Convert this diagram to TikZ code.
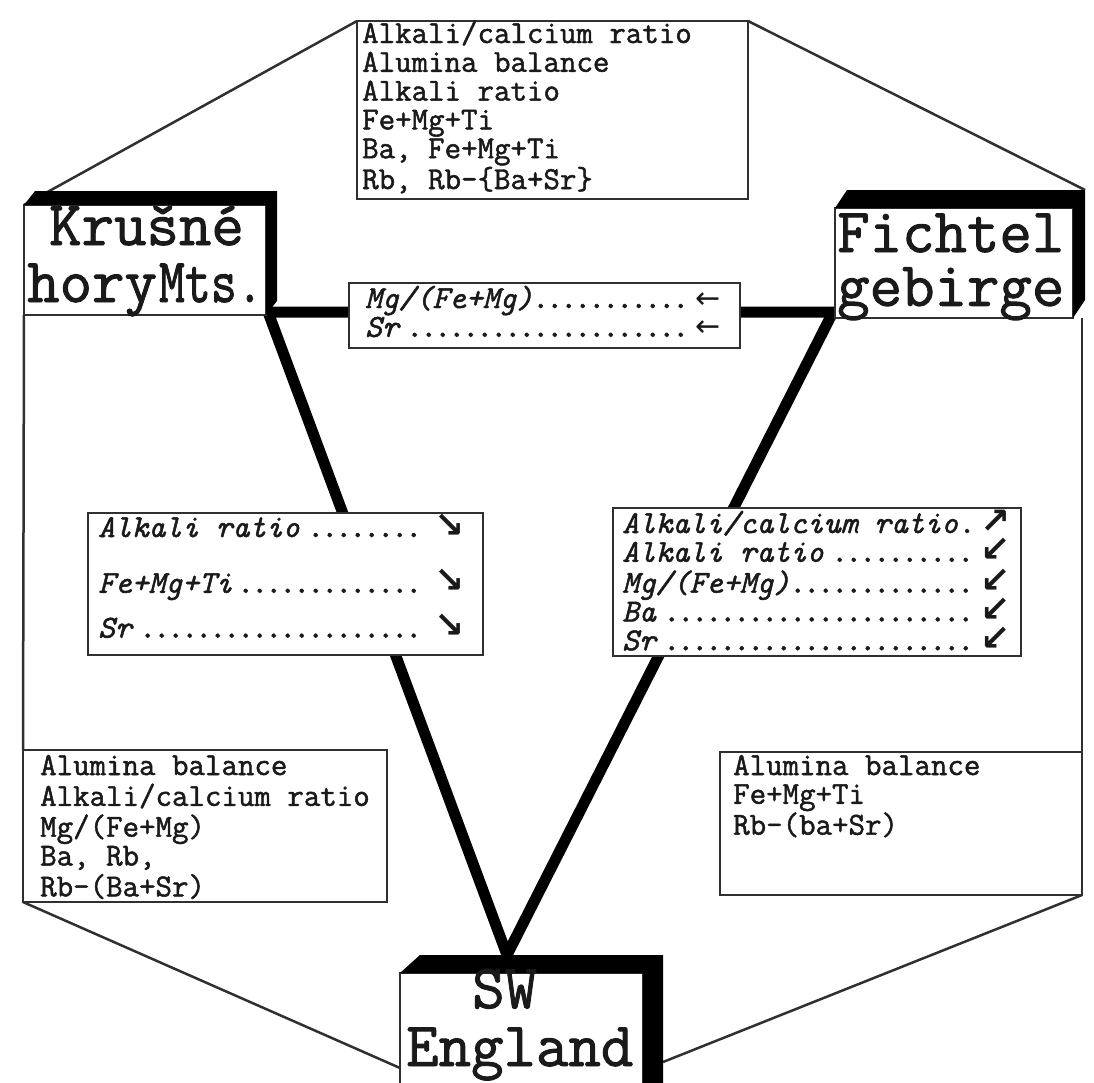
\documentclass[tikz,border=0pt]{standalone}
\usepackage{fontspec}
\setmainfont{Latin Modern Roman}
\setmonofont[FakeBold=1.5]{Latin Modern Mono}
\newfontfamily\arrowfont{DejaVu Sans}
\usepackage{graphicx}
\usetikzlibrary{calc,backgrounds}

\definecolor{ink}{HTML}{1A1A1A}
\definecolor{edge}{HTML}{303030}

% trend arrows, kept out of the line height
\newcommand\heavyarrow[1]{\smash{\arrowfont\bfseries\fontsize{36}{36}\selectfont #1}}
\newcommand\lightarrow[1]{\smash{\arrowfont\fontsize{30}{30}\selectfont #1}}
% a dotted leader row of fixed width ending in an arrow
\newcommand\dotrow[3]{\hbox to #1{#2\leaders\hbox to 14pt{\hss.\hss}\hfill\hspace{4pt}#3}}
% left-aligned stack of lines whose baseline is the first line
\newcommand\stack[1]{\begin{tabular}[t]{@{}l@{}}#1\end{tabular}}
% black extrusion band on the top and right of a region box
\newcommand\extrude[3]{%
  \fill[black] (#1.north west) -- ++(#2,-#3) -- ($(#1.north east)+(#2,-#3)$)
    -- ($(#1.south east)+(#2,-#3)$) -- (#1.south east) -- (#1.north east) -- cycle;}

\begin{document}
\begin{tikzpicture}[x=1pt,y=-1pt,
  box/.style={draw=edge, line width=2.5pt, fill=white, inner sep=0pt, outer sep=0pt, anchor=north west},
  hexline/.style={draw=edge, line width=2.5pt},
  spine/.style={draw=black, line width=11pt, line join=miter},
  lst/.style={inner sep=0pt, anchor=base west, text=ink, font=\ttfamily\fontsize{32}{28.8}\selectfont},
  lsti/.style={lst, font=\ttfamily\itshape\fontsize{32}{28.8}\selectfont},
  big/.style={inner sep=0pt, anchor=base west, text=ink}]

\useasboundingbox (0,0) rectangle (1094,1082);
\clip (0,0) rectangle (1094,1082);

% boxes
\node[box, minimum width=391pt, minimum height=178pt] (top) at (357,21) {};
\node[box, minimum width=242pt, minimum height=110pt] (kr) at (24,205) {};
\node[box, minimum width=238pt, minimum height=110pt] (fi) at (835,208) {};
\node[box, minimum width=243pt, minimum height=150pt] (sw) at (400,973) {};
\node[box, minimum width=391pt, minimum height=65pt] (mid) at (349,283) {};
\node[box, minimum width=395pt, minimum height=142pt] (lm) at (88,513) {};
\node[box, minimum width=408pt, minimum height=148pt] (rm) at (613,508) {};
\node[box, minimum width=364pt, minimum height=152pt] (bl) at (23,750) {};
\node[box, minimum width=362pt, minimum height=143pt] (br) at (720,752) {};

\extrude{kr}{11}{14}
\extrude{fi}{12}{18}
\extrude{sw}{20}{18}

% junction points of the thick connectors
\coordinate (kv) at (268,312);
\coordinate (fv) at (833,312);
\coordinate (sv) at (507,955);
\coordinate (swl) at (400,1068);
\coordinate (swr) at (663,1062);

\begin{scope}[on background layer]
  \draw[hexline] (kr.north west) -- (top.north west);
  \draw[hexline] (top.north east) -- ($(fi.north east)+(12,-18)$);
  \draw[hexline] (kr.south west) -- (bl.north west);
  \draw[hexline] (br.north east) -- (br.north east |- fi.south east);
  \draw[hexline] (bl.south west) -- (swl);
  \draw[hexline] (br.south east) -- (swr);
  \draw[spine] (mid.west |- kv) -- (kv) -- (sv) -- (fv) -- (mid.east |- fv);
\end{scope}

% region labels
\node[big, font=\ttfamily\fontsize{63}{57}\selectfont] (krt) at (27,245)
  {\stack{\hspace*{22pt}Krušné\\hory\kern2pt\scalebox{0.8}[1]{Mts.}}};
\node[big, font=\ttfamily\fontsize{63}{51}\selectfont] (fit) at (837,252)
  {\stack{Fichtel\\gebirge}};
\node[big, font=\ttfamily\fontsize{63}{58}\selectfont] (swt) at (406,1008)
  {\stack{\hspace*{66pt}SW\\England}};

% shared features
\node[lst] (topt) at (362,43)
  {\stack{Alkali/calcium ratio\\Alumina balance\\Alkali ratio\\Fe+Mg+Ti\\Ba, Fe+Mg+Ti\\Rb, Rb-\{Ba+Sr\}}};
\node[lst] (blt) at (40,775)
  {\stack{Alumina balance\\Alkali/calcium ratio\\Mg/(Fe+Mg)\\Ba, Rb,\\Rb-(Ba+Sr)}};
\node[lst] (brt) at (733,775)
  {\stack{Alumina balance\\Fe+Mg+Ti\\Rb-(ba+Sr)}};

% trends along the connectors
\node[lsti] (midt) at (365,308)
  {\stack{\dotrow{355pt}{Mg/(Fe+Mg)}{\lightarrow{←}}\\\dotrow{355pt}{Sr}{\lightarrow{←}}}};
\node[lsti] (lmt) at (98,537)
  {\stack{\dotrow{366pt}{Alkali ratio}{\heavyarrow{↘}}\\[27pt]\dotrow{366pt}{Fe+Mg+Ti}{\heavyarrow{↘}}\\[16pt]\dotrow{366pt}{Sr}{\heavyarrow{↘}}}};
\node[lsti] (rmt) at (622,533)
  {\stack{\dotrow{388pt}{Alkali/calcium ratio.}{\heavyarrow{↗}}\\\dotrow{388pt}{Alkali ratio}{\heavyarrow{↙}}\\\dotrow{388pt}{Mg/(Fe+Mg)}{\heavyarrow{↙}}\\\dotrow{388pt}{Ba}{\heavyarrow{↙}}\\\dotrow{388pt}{Sr}{\heavyarrow{↙}}}};

\end{tikzpicture}
\end{document}
